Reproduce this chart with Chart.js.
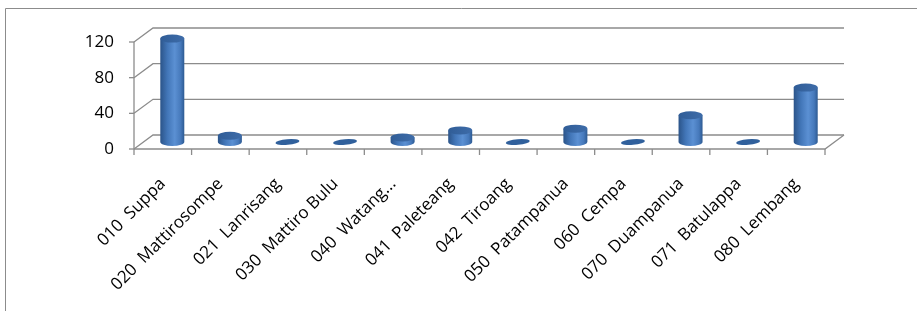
<!DOCTYPE html>
<html>
<head>
<meta charset="utf-8">
<script src="https://cdn.jsdelivr.net/npm/chart.js@4"></script>
<style>
html,body{margin:0;padding:0;background:#fff;}
#wrap{position:relative;width:917px;height:311px;}
</style>
</head>
<body>
<div id="wrap"><canvas id="chart"></canvas></div>
<script>

// data
let categories = ["010  Suppa","020  Mattirosompe","021  Lanrisang","030  Mattiro Bulu","040  Watang...","041  Paleteang","042  Tiroang","050  Patampanua","060  Cempa","070  Duampanua","071  Batulappa","080  Lembang"]
let values = [116,7,0,0,5,13,0,15,0,30,0,61]
let yTicks = [0,40,80,120]

// depth of the fake 3d box
let depthX = 19
let depthY = 14

let box3d = {
id:"box3d",
beforeDraw(chart){
let ctx = chart.ctx
ctx.save()
ctx.strokeStyle = "#8c8c8c"
ctx.lineWidth = 1
ctx.beginPath()
ctx.moveTo(5.5,311)
ctx.lineTo(5.5,8.5)
ctx.lineTo(917,8.5)
ctx.stroke()
ctx.restore()
},
beforeDatasetsDraw(chart){
let ctx = chart.ctx
let a = chart.chartArea
let ys = chart.scales.y
ctx.save()
ctx.strokeStyle = "#8c8c8c"
ctx.lineWidth = 1.3
// back wall lines and diagonals
yTicks.forEach(function(t){
let py = ys.getPixelForValue(t)
ctx.beginPath()
ctx.moveTo(a.left,py)
ctx.lineTo(a.left+depthX,py-depthY)
ctx.lineTo(a.right+depthX,py-depthY)
ctx.stroke()
ctx.beginPath()
ctx.moveTo(a.left-5,py)
ctx.lineTo(a.left,py)
ctx.stroke()
})
// floor
let b = ys.getPixelForValue(0)
ctx.beginPath()
ctx.moveTo(a.left,b)
ctx.lineTo(a.right,b)
ctx.lineTo(a.right+depthX,b-depthY)
ctx.stroke()
// front axis
ctx.beginPath()
ctx.moveTo(a.left,ys.getPixelForValue(yTicks[yTicks.length-1]))
ctx.lineTo(a.left,b)
ctx.stroke()
// category tick marks
let n = categories.length
for(let i=0;i<=n;i++){
let px = a.left+(a.right-a.left)*i/n
ctx.beginPath()
ctx.moveTo(px,b)
ctx.lineTo(px,b+6)
ctx.stroke()
}
ctx.restore()
},
afterDatasetsDraw(chart){
let ctx = chart.ctx
let meta = chart.getDatasetMeta(0)
meta.data.forEach(function(el,i){
let cx = el.x+depthX/2
let top = el.y-depthY/2
let base = el.base-depthY/2
let rx = 12
let ry = 4
ctx.save()
if(values[i]==0){
ctx.fillStyle = "#30609c"
ctx.beginPath()
ctx.ellipse(cx,base,rx,ry*0.7,-0.08,0,Math.PI*2)
ctx.fill()
ctx.restore()
return
}
let g = ctx.createLinearGradient(cx-rx,0,cx+rx,0)
g.addColorStop(0,"#2b5489")
g.addColorStop(0.3,"#4276b8")
g.addColorStop(0.6,"#5b90d3")
g.addColorStop(0.85,"#4679bb")
g.addColorStop(1,"#2d5a92")
ctx.fillStyle = g
ctx.beginPath()
ctx.moveTo(cx-rx,top)
ctx.lineTo(cx-rx,base)
ctx.ellipse(cx,base,rx,ry,0,Math.PI,0,true)
ctx.lineTo(cx+rx,top)
ctx.closePath()
ctx.fill()
let g2 = ctx.createLinearGradient(cx-rx,0,cx+rx,0)
g2.addColorStop(0,"#305d97")
g2.addColorStop(1,"#3e6ca9")
ctx.fillStyle = g2
ctx.beginPath()
ctx.ellipse(cx,top,rx,ry,0,0,Math.PI*2)
ctx.fill()
ctx.restore()
})
}
}

let ctx = document.getElementById("chart").getContext("2d")

new Chart(ctx,{
type:"bar",
data:{
labels:categories,
datasets:[{
data:values,
backgroundColor:"rgba(0,0,0,0)",
borderWidth:0
}]
},
options:{
responsive:true,
maintainAspectRatio:false,
animation:false,
events:[],
layout:{padding:{left:0,right:92,top:42,bottom:0}},
plugins:{legend:{display:false},tooltip:{enabled:false}},
scales:{
x:{
grid:{display:false,drawTicks:false},
border:{display:false},
ticks:{
autoSkip:false,
maxRotation:45,
minRotation:45,
padding:25,
color:"#000",
font:{family:"Open Sans",size:17}
},
afterFit:function(s){s.height=162}
},
y:{
min:0,
max:120,
grid:{display:false,drawTicks:false},
border:{display:false},
ticks:{
stepSize:40,
padding:20,
color:"#000",
font:{family:"Open Sans",size:17}
},
afterFit:function(s){s.width=134}
}
}
},
plugins:[box3d]
})

</script>
</body>
</html>
